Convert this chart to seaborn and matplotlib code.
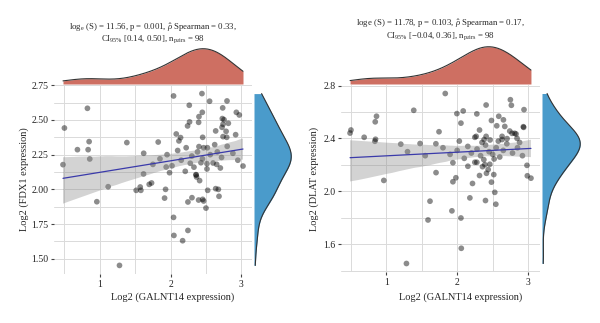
import numpy as np
import pandas as pd
import matplotlib
matplotlib.use("Agg")
import matplotlib.pyplot as plt
from matplotlib.ticker import MultipleLocator
from matplotlib.collections import PolyCollection
import seaborn as sns

# ---------------- data (points hidden under the
# confidence band are estimated so that n = 98) ----------------
galnt14_a = [0.825, 0.500, 0.849, 0.684, 0.835, 0.858, 0.480, 1.382, 1.618, 1.571,
             1.514, 1.580, 1.698, 1.731, 1.118, 0.958, 1.278,
             2.042, 2.443, 2.551, 2.797, 2.264, 2.736, 2.448, 2.401, 2.929, 2.971,
             2.731, 2.755, 2.268, 2.396, 2.240, 2.741, 2.816, 2.727, 2.637, 2.784,
             2.080, 2.453, 2.741, 2.793, 2.919, 2.141, 2.118, 1.825, 2.401, 2.467,
             2.623, 3.023, 2.278, 2.429, 2.514, 2.651, 2.703, 2.514, 2.207, 1.985,
             1.938, 2.358, 2.367, 2.410, 1.929, 1.915, 2.637, 2.675, 2.524, 2.684,
             2.302, 2.245, 2.396, 2.453, 2.467, 2.500, 2.042, 2.047, 2.245, 2.170,
             2.362,
             1.85, 1.95, 2.02, 2.10, 2.15, 2.22, 2.30, 2.33, 2.38, 2.45,
             2.52, 2.56, 2.60, 2.66, 2.72, 2.80, 2.88, 2.95, 1.62, 1.75]
fdx1 = [2.584, 2.442, 2.344, 2.286, 2.286, 2.219, 2.178, 2.337, 2.111, 2.017,
        1.993, 1.993, 2.036, 2.046, 2.019, 1.911, 1.452,
        2.673, 2.690, 2.635, 2.637, 2.606, 2.587, 2.555, 2.524, 2.555, 2.536,
        2.510, 2.502, 2.486, 2.483, 2.457, 2.469, 2.476, 2.447, 2.421, 2.418,
        2.399, 2.375, 2.380, 2.375, 2.394, 2.373, 2.349, 2.341, 2.308, 2.300,
        2.322, 2.168, 2.188, 2.192, 2.185, 2.180, 2.154, 2.147, 2.130, 2.120,
        2.161, 2.106, 2.089, 2.063, 2.000, 1.937, 2.005, 2.000, 1.993, 1.950,
        1.940, 1.909, 1.923, 1.928, 1.916, 1.865, 1.798, 1.668, 1.704, 1.630,
        2.103,
        2.22, 2.25, 2.17, 2.28, 2.21, 2.30, 2.24, 2.16, 2.27, 2.22,
        2.30, 2.25, 2.19, 2.27, 2.23, 2.31, 2.26, 2.21, 2.26, 2.18]

galnt14_b = [1.388, 0.863, 0.845, 0.503, 0.490, 0.689, 0.849, 0.840, 1.205, 1.477,
             1.744, 1.702, 0.966, 1.617, 1.589, 1.285,
             1.832, 2.408, 2.750, 2.764, 2.942, 1.996, 2.085, 2.277, 2.053, 2.483,
             2.586, 2.652, 2.558, 2.671, 2.315, 2.933, 2.937, 2.741, 2.774, 2.811,
             2.830, 2.268, 2.249, 2.408, 2.380, 2.464, 2.633, 2.633, 2.703, 2.844,
             1.940, 2.151, 2.249, 2.277, 2.376, 2.357, 2.390, 2.460, 2.521, 2.315,
             2.413, 2.437, 2.516, 2.483, 2.216, 1.982, 1.940, 2.984, 2.989, 3.040,
             2.530, 2.179, 2.399, 2.545, 1.926, 2.053, 2.058,
             1.30, 1.55, 1.80, 1.90, 2.00, 2.10, 2.15, 2.20, 2.28, 2.33,
             2.40, 2.45, 2.50, 2.55, 2.60, 2.65, 2.70, 2.78, 2.85, 2.92,
             2.03, 2.35, 1.70, 2.58, 2.88]
dlat = [2.613, 2.568, 2.526, 2.464, 2.441, 2.409, 2.394, 2.379, 2.357, 2.362,
        2.451, 2.142, 2.083, 1.926, 1.784, 1.455,
        2.740, 2.653, 2.693, 2.651, 2.618, 2.588, 2.608, 2.586, 2.516, 2.536,
        2.568, 2.541, 2.496, 2.491, 2.464, 2.489, 2.484, 2.456, 2.439, 2.439,
        2.434, 2.416, 2.409, 2.416, 2.392, 2.389, 2.416, 2.392, 2.399, 2.401,
        2.217, 2.190, 2.220, 2.220, 2.240, 2.187, 2.202, 2.205, 2.245, 2.120,
        2.137, 2.165, 2.127, 2.070, 2.060, 2.103, 2.073, 2.197, 2.118, 2.100,
        1.993, 1.951, 1.931, 1.903, 1.853, 1.799, 1.570,
        2.30, 2.27, 2.33, 2.28, 2.31, 2.25, 2.34, 2.29, 2.32, 2.27,
        2.35, 2.30, 2.28, 2.33, 2.26, 2.31, 2.36, 2.29, 2.33, 2.27,
        2.38, 2.37, 2.36, 2.38, 2.37]

title_a = ["log$_{\\mathrm{e}}$ (S) = 11.56, p = 0.001, $\\hat{\\rho}$ Spearman = 0.33,",
           "CI$_{\\mathrm{95\\%}}$ [0.14, 0.50], n$_{\\mathrm{pairs}}$ = 98"]
title_b = ["loge (S) = 11.78, p = 0.103, $\\hat{\\rho}$ Spearman = 0.17,",
           "CI$_{\\mathrm{95\\%}}$ [\u22120.04, 0.36], n$_{\\mathrm{pairs}}$ = 98"]
xlabel = "Log2 (GALNT14 expression)"
ylabel_a = "Log2 (FDX1 expression)"
ylabel_b = "Log2 (DLAT expression)"

# ---------------- style ----------------
sns.set_theme(style="white")
plt.rcParams["font.family"] = ["Liberation Serif", "DejaVu Serif"]
plt.rcParams["mathtext.fontset"] = "custom"
plt.rcParams["mathtext.rm"] = "Liberation Serif"
plt.rcParams["mathtext.it"] = "Liberation Serif:italic"

W, H = 600, 323
fig = plt.figure(figsize=(W / 100, H / 100), dpi=100)
fig.patch.set_facecolor("white")


def box(x0, y0, x1, y1):
    return [x0 / W, 1 - y1 / H, (x1 - x0) / W, (y1 - y0) / H]


RED = "#CE6F62"
BLUE = "#4A9BCB"


def panel(x, y, main, top, right, ymaj, title, title_y, ylab, ylab_x):
    x = np.asarray(x)
    y = np.asarray(y)
    ax = fig.add_axes(box(*main))
    xr = x.max() - x.min()
    yr = y.max() - y.min()
    xlim = (x.min() - 0.05 * xr, x.max() + 0.05 * xr)
    ylim = (y.min() - 0.05 * yr, y.max() + 0.05 * yr)

    sns.scatterplot(x=x, y=y, ax=ax, color="black", alpha=0.45, s=17,
                    edgecolor="none", zorder=2)
    sns.regplot(x=x, y=y, ax=ax, scatter=False, color="#3A3AAA", seed=3,
                line_kws=dict(lw=0.9, zorder=4), truncate=True)
    for c in ax.collections:
        if isinstance(c, PolyCollection):
            c.set_facecolor("#8C8C8C")
            c.set_alpha(0.38)
            c.set_edgecolor("none")
            c.set_zorder(3)
    ax.set_xlim(*xlim)
    ax.set_ylim(*ylim)
    ax.xaxis.set_major_locator(MultipleLocator(1))
    ax.xaxis.set_minor_locator(MultipleLocator(0.5))
    ax.yaxis.set_major_locator(MultipleLocator(ymaj))
    ax.yaxis.set_minor_locator(MultipleLocator(ymaj / 2))
    ax.grid(which="both", color="#DADADA", lw=0.7)
    ax.set_axisbelow(True)
    for s in ax.spines.values():
        s.set_visible(False)
    ax.tick_params(which="major", length=2, width=0.8, color="#444444",
                   labelsize=7, pad=2, labelcolor="#222222")
    ax.tick_params(which="minor", length=0)
    ax.tick_params(axis="x", bottom=True)
    ax.tick_params(axis="y", left=True)
    ax.set_xlabel("")
    ax.set_ylabel("")

    # top marginal density
    axt = fig.add_axes(box(*top))
    sns.kdeplot(x=x, ax=axt, fill=True, color=RED, alpha=1, linewidth=0,
                cut=0, bw_method="silverman")
    sns.kdeplot(x=x, ax=axt, fill=False, color="#333333", linewidth=0.8,
                cut=0, bw_method="silverman")
    mx = max(l.get_ydata().max() for l in axt.lines)
    axt.set_xlim(*xlim)
    axt.set_ylim(0, mx * 1.02)
    axt.axis("off")

    # right marginal density
    axr = fig.add_axes(box(*right))
    sns.kdeplot(y=y, ax=axr, fill=True, color=BLUE, alpha=1, linewidth=0,
                cut=0, bw_method="silverman")
    sns.kdeplot(y=y, ax=axr, fill=False, color="#333333", linewidth=0.8,
                cut=0, bw_method="silverman")
    mx = max(l.get_xdata().max() for l in axr.lines)
    axr.set_ylim(*ylim)
    axr.set_xlim(0, mx * 1.02)
    axr.axis("off")

    cx = (main[0] + main[2]) / 2
    fig.text(cx / W, 1 - title_y[0] / H, title[0], ha="center", va="center",
             fontsize=6.3)
    fig.text(cx / W, 1 - title_y[1] / H, title[1], ha="center", va="center",
             fontsize=6.3)
    lx = (main[0] + right[2]) / 2
    fig.text(lx / W, 1 - 297 / H, xlabel, ha="center", va="center", fontsize=7.5)
    fig.text(ylab_x / W, 1 - ((main[1] + main[3]) / 2) / H, ylab, ha="center",
             va="center", rotation=90, fontsize=7.5)


panel(galnt14_a, fdx1, (54, 85, 252, 274), (54, 48, 252, 84), (254, 85, 292, 274),
      0.25, title_a, (27.5, 39.5), ylabel_a, 24)
panel(galnt14_b, dlat, (341, 85, 540, 272), (341, 46, 540, 84), (542, 85, 581, 272),
      0.4, title_b, (24, 36), ylabel_b, 314)

fig.savefig("out.png", dpi=100, facecolor="white")
